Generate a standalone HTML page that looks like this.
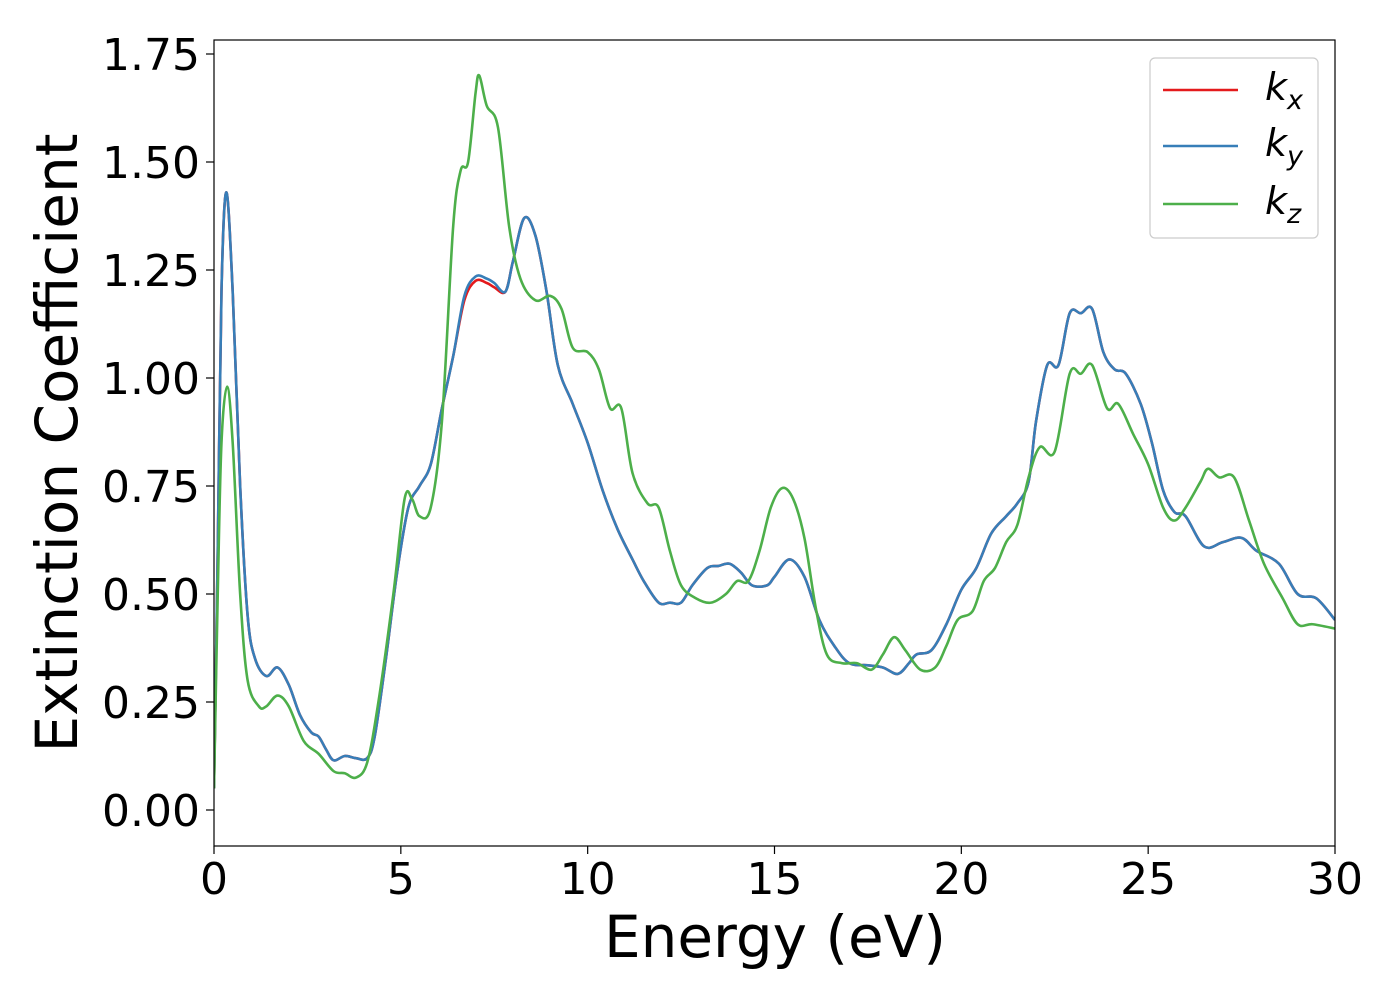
<!DOCTYPE html>
<html><head><meta charset="utf-8"><style>
body{margin:0;background:#fff}
svg text{font-family:"DejaVu Sans","Liberation Sans",sans-serif;fill:#000}
</style></head><body>
<svg id="chart" width="1400" height="1000" xmlns="http://www.w3.org/2000/svg">
<rect width="1400" height="1000" fill="#fff"/>
<g id="plot"></g>
<g id="axes"></g>
</svg>
<script>
const xTicks=[0,5,10,15,20,25,30];
const yTicks=[0,0.25,0.5,0.75,1.0,1.25,1.5,1.75];
const yTickLabels=["0.00","0.25","0.50","0.75","1.00","1.25","1.50","1.75"];
const kxE=[0,0.1,0.2,0.33,0.5,0.7,0.9,1.1,1.4,1.7,2.0,2.3,2.6,2.8,3.0,3.2,3.5,3.8,4.1,4.3,4.6,4.9,5.2,5.5,5.8,6.1,6.4,6.7,7.0,7.3,7.5,7.8,8.0,8.3,8.6,8.9,9.2,9.6,10.0,10.4,10.8,11.2,11.5,11.9,12.2,12.5,12.8,13.2,13.5,13.8,14.1,14.4,14.8,15.0,15.4,15.8,16.2,16.6,17.0,17.5,17.9,18.3,18.6,18.8,19.2,19.6,20.0,20.4,20.8,21.2,21.5,21.8,22.0,22.3,22.6,22.9,23.2,23.5,23.8,24.1,24.4,24.8,25.1,25.4,25.7,26.0,26.5,27.0,27.5,27.9,28.5,29.0,29.5,30];
const kxV=[0.05,0.6,1.2,1.43,1.2,0.75,0.45,0.35,0.31,0.33,0.29,0.22,0.18,0.17,0.14,0.115,0.125,0.12,0.12,0.17,0.35,0.55,0.7,0.75,0.8,0.93,1.05,1.18,1.225,1.22,1.21,1.2,1.27,1.37,1.33,1.2,1.03,0.94,0.85,0.74,0.65,0.58,0.53,0.48,0.48,0.48,0.52,0.56,0.565,0.57,0.55,0.52,0.52,0.54,0.58,0.54,0.44,0.38,0.34,0.335,0.33,0.315,0.34,0.36,0.37,0.43,0.51,0.56,0.64,0.68,0.71,0.76,0.9,1.03,1.03,1.15,1.15,1.16,1.06,1.02,1.01,0.94,0.85,0.74,0.69,0.68,0.61,0.62,0.63,0.6,0.57,0.5,0.49,0.44];
const kyV=kxV.map((v,i)=>(i>=27&&i<=30)?v+0.01:v);
const kzE=[0,0.1,0.2,0.35,0.5,0.7,0.9,1.2,1.4,1.7,2.0,2.4,2.8,3.2,3.5,3.8,4.1,4.4,4.8,5.1,5.3,5.5,5.8,6.1,6.4,6.6,6.8,7.0,7.1,7.3,7.6,7.9,8.2,8.6,9.0,9.3,9.6,10.0,10.3,10.6,10.9,11.2,11.6,11.9,12.2,12.5,12.9,13.3,13.7,14.0,14.3,14.6,14.9,15.2,15.5,15.8,16.1,16.4,16.8,17.2,17.6,17.9,18.2,18.5,18.9,19.3,19.6,19.9,20.3,20.6,20.9,21.2,21.5,21.8,22.1,22.5,22.9,23.2,23.5,23.9,24.2,24.6,25.0,25.4,25.7,26.0,26.4,26.6,26.9,27.3,27.7,28.1,28.6,29.0,29.4,30];
const kzV=[0.05,0.5,0.85,0.98,0.85,0.5,0.3,0.24,0.24,0.265,0.24,0.16,0.13,0.09,0.085,0.075,0.11,0.25,0.5,0.72,0.72,0.68,0.7,0.9,1.35,1.48,1.5,1.66,1.7,1.63,1.58,1.35,1.23,1.18,1.19,1.16,1.07,1.06,1.02,0.93,0.93,0.78,0.71,0.7,0.6,0.52,0.49,0.48,0.5,0.53,0.53,0.6,0.7,0.745,0.72,0.63,0.47,0.36,0.34,0.34,0.325,0.36,0.4,0.37,0.325,0.33,0.38,0.44,0.46,0.53,0.56,0.62,0.66,0.77,0.84,0.83,1.01,1.01,1.03,0.93,0.94,0.87,0.8,0.7,0.67,0.7,0.76,0.79,0.77,0.77,0.67,0.57,0.49,0.43,0.43,0.42];
const L=214,R=1335,T=40,B=846;
const sx=v=>L+(v-0)/30*(R-L);
const sy=v=>810-v*(810-54)/1.75;
const NS="http://www.w3.org/2000/svg";
function mk(tag,attrs,parent){const e=document.createElementNS(NS,tag);for(const k in attrs)e.setAttribute(k,attrs[k]);parent.appendChild(e);return e;}
function pathD(E,V){const p=E.map((e,i)=>[sx(e),sy(V[i])]);let d=`M${p[0][0]},${p[0][1]}`;
for(let i=0;i<p.length-1;i++){const p0=p[Math.max(0,i-1)],p1=p[i],p2=p[i+1],p3=p[Math.min(p.length-1,i+2)];
const c1=[p1[0]+(p2[0]-p0[0])/6,p1[1]+(p2[1]-p0[1])/6],c2=[p2[0]-(p3[0]-p1[0])/6,p2[1]-(p3[1]-p1[1])/6];
d+=`C${c1[0]},${c1[1]} ${c2[0]},${c2[1]} ${p2[0]},${p2[1]}`;}return d;}
const plot=document.getElementById('plot'),axes=document.getElementById('axes');
mk('clipPath',{id:'clip'},plot).appendChild(Object.assign(document.createElementNS(NS,'rect'),{}));
const cr=plot.querySelector('clipPath');cr.firstChild.setAttribute('x',L);cr.firstChild.setAttribute('y',T);cr.firstChild.setAttribute('width',R-L);cr.firstChild.setAttribute('height',B-T);
const series=[["kx-line","#e41a1c",kxE,kxV],["ky-line","#377eb8",kxE,kyV],["kz-line","#4daf4a",kzE,kzV]];
series.forEach(s=>{const p=mk('path',{d:pathD(s[2],s[3]),fill:'none',stroke:s[1],'stroke-width':2.6,'clip-path':'url(#clip)'},plot);

});
const fr=mk('rect',{x:L,y:T,width:R-L,height:B-T,fill:'none',stroke:'#000','stroke-width':1.2},axes);


xTicks.forEach(t=>{mk('line',{x1:sx(t),x2:sx(t),y1:B,y2:B+8,stroke:'#000','stroke-width':1.2},axes);
const tx=mk('text',{x:sx(t),y:B+48,'font-size':44,'text-anchor':'middle'},axes);tx.textContent=t;

});
yTicks.forEach((t,i)=>{mk('line',{x1:L-8,x2:L,y1:sy(t),y2:sy(t),stroke:'#000','stroke-width':1.2},axes);
const tx=mk('text',{x:L-14,y:sy(t)+16,'font-size':44,'text-anchor':'end'},axes);tx.textContent=yTickLabels[i];

});
const xl=mk('text',{x:775,y:957,'font-size':58,'text-anchor':'middle'},axes);xl.textContent='Energy (eV)';


const yl=mk('text',{x:0,y:0,'font-size':58,'text-anchor':'middle',transform:'translate(77,443) rotate(-90)'},axes);yl.textContent='Extinction Coefficient';


const lg=mk('g',{},axes);


mk('rect',{x:1150,y:58,width:168,height:180,rx:5,fill:'#fff',stroke:'#ccc','stroke-width':1.2},lg);
[["x","#e41a1c",90],["y","#377eb8",146],["z","#4daf4a",204]].forEach(e=>{
mk('line',{x1:1163,x2:1238,y1:e[2],y2:e[2],stroke:e[1],'stroke-width':2.6},lg);
const t=mk('text',{x:1265,y:e[2]+10,'font-size':38,'font-style':'italic'},lg);t.textContent='k';
const s=mk('tspan',{'font-size':27,dy:9},t);s.textContent=e[0];

});
</script>
</body></html>
